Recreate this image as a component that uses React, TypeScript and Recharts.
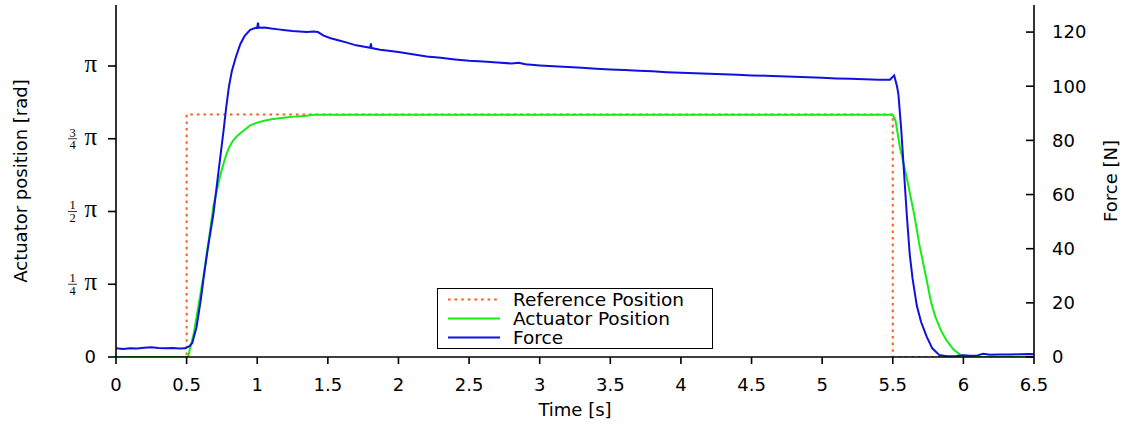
import React from 'react';
import { LineChart, Line, XAxis, YAxis, Legend } from 'recharts';

// reference step input [rad]
const refT = [0, 0.5, 0.5, 5.5, 5.5, 6.5];
const refPos = [0, 0, 2.618, 2.618, 0, 0];

// measured actuator position [rad]
const actT = [
  0, 0.51, 0.55, 0.6, 0.62, 0.66, 0.69, 0.72, 0.74, 0.76, 0.78, 0.8, 0.83, 0.86, 0.9, 0.95,
  1.0, 1.05, 1.1, 1.2, 1.26, 1.33, 1.4, 5.5, 5.52, 5.55, 5.6, 5.65, 5.69, 5.72, 5.74, 5.77,
  5.8, 5.84, 5.88, 5.93, 5.98, 6.02, 6.5,
];
const actPos = [
  0, 0, 0.25, 0.7, 0.88, 1.3, 1.63, 1.84, 1.97, 2.08, 2.18, 2.26, 2.34, 2.39, 2.44, 2.5,
  2.53, 2.55, 2.567, 2.585, 2.595, 2.603, 2.614, 2.614, 2.55, 2.27, 1.93, 1.55, 1.2, 0.98, 0.83, 0.6,
  0.44, 0.29, 0.18, 0.08, 0.02, 0, 0,
];

// measured force [N]
const forceT = [
  0, 0.05, 0.1, 0.15, 0.2, 0.25, 0.3, 0.35, 0.4, 0.45, 0.49, 0.52, 0.54, 0.57, 0.6, 0.62,
  0.65, 0.69, 0.72, 0.76, 0.78, 0.8, 0.82, 0.85, 0.88, 0.91, 0.95, 0.99, 1.0, 1.005, 1.01, 1.05,
  1.1, 1.15, 1.2, 1.25, 1.3, 1.35, 1.4, 1.43, 1.47, 1.52, 1.58, 1.63, 1.7, 1.76, 1.8, 1.805,
  1.81, 1.87, 1.93, 2.0, 2.1, 2.2, 2.3, 2.4, 2.5, 2.6, 2.7, 2.8, 2.85, 2.9, 3.0, 3.1,
  3.2, 3.3, 3.4, 3.5, 3.6, 3.7, 3.8, 3.9, 4.0, 4.1, 4.2, 4.3, 4.4, 4.5, 4.6, 4.7,
  4.8, 4.9, 5.0, 5.1, 5.2, 5.3, 5.4, 5.48, 5.51, 5.53, 5.54, 5.56, 5.58, 5.6, 5.62, 5.64,
  5.67, 5.7, 5.74, 5.78, 5.83, 5.88, 5.95, 6.0, 6.05, 6.1, 6.14, 6.19, 6.25, 6.33, 6.4, 6.47,
  6.5,
];
const forceN = [
  3.2, 3.0, 3.2, 3.1, 3.4, 3.6, 3.3, 3.2, 3.3, 3.1, 3.2, 4.0, 5.2, 11, 21, 29,
  40, 53, 66, 83, 92, 100, 105.5, 111, 115.5, 118.5, 120.8, 121.6, 121.5, 123.5, 121.6, 121.7,
  121.3, 121.0, 120.7, 120.4, 120.2, 120.0, 120.2, 120.0, 118.7, 117.7, 116.9, 116.2, 115.1, 114.6, 114.2, 115.8,
  114.1, 113.5, 113.1, 112.6, 111.8, 111.0, 110.5, 109.9, 109.4, 109.1, 108.8, 108.4, 108.7, 108.1, 107.7, 107.4,
  107.1, 106.8, 106.5, 106.2, 106.0, 105.7, 105.5, 105.2, 105.0, 104.8, 104.6, 104.4, 104.2, 104.0, 103.9, 103.7,
  103.5, 103.3, 103.1, 102.9, 102.8, 102.6, 102.4, 102.4, 104.0, 100, 97, 84, 68, 52, 38, 29,
  19, 13, 7.5, 3.2, 0.7, 0.3, 0.4, 0.6, 0.5, 0.6, 1.2, 0.8, 0.9, 0.9, 1.0, 1.1,
  1.0,
];

const timeTicks = [0, 0.5, 1, 1.5, 2, 2.5, 3, 3.5, 4, 4.5, 5, 5.5, 6, 6.5];
const posTicks = [0, Math.PI / 4, Math.PI / 2, (3 * Math.PI) / 4, Math.PI];
const posTickLabels = ['0', '1/4π', '1/2π', '3/4π', 'π'];
const forceTicks = [0, 20, 40, 60, 80, 100, 120];

const series = [
  { name: 'Reference Position', color: '#ff5a1f', dash: '2.6 4' },
  { name: 'Actuator Position', color: '#16ec16', dash: undefined },
  { name: 'Force', color: '#1010e0', dash: undefined },
];

const refData = refT.map((t, i) => ({ t, v: refPos[i] }));
const actData = actT.map((t, i) => ({ t, v: actPos[i] }));
const forceData = forceT.map((t, i) => ({ t, v: forceN[i] }));

const SANS = 'DejaVu Sans';
const SERIF = 'Liberation Serif';
const FS = 18;

function PosTick({ x, y, payload }: any) {
  const i = posTicks.findIndex((v) => Math.abs(v - payload.value) < 1e-6);
  const label = posTickLabels[i] ?? '';
  if (label === '0') {
    return (
      <text x={x} y={y} dy="0.355em" textAnchor="end" fontSize={FS} fontFamily={SANS} fill="#000">
        0
      </text>
    );
  }
  const frac = label.replace('π', '');
  const [num, den] = frac ? frac.split('/') : [];
  return (
    <g>
      {frac && (
        <>
          <text x={x - 23.5} y={y - 2} textAnchor="middle" fontSize={12.5} fontFamily={SERIF} fill="#000">
            {num}
          </text>
          <line x1={x - 28} x2={x - 19} y1={y} y2={y} stroke="#000" strokeWidth={0.8} />
          <text x={x - 23.5} y={y + 10.5} textAnchor="middle" fontSize={12.5} fontFamily={SERIF} fill="#000">
            {den}
          </text>
        </>
      )}
      <text x={x + 1} y={y + 6} textAnchor="end" fontSize={25} fontFamily={SERIF} fill="#000">
        π
      </text>
    </g>
  );
}

function ForceTick({ x, y, payload }: any) {
  return (
    <g>
      <line x1={x - 8} x2={x} y1={y} y2={y} stroke="#000" strokeWidth={1.6} />
      <text x={x + 18} y={y} dy="0.355em" textAnchor="start" fontSize={FS} fontFamily={SANS} fill="#000">
        {payload.value}
      </text>
    </g>
  );
}

function LegendBox() {
  return (
    <div
      style={{
        boxSizing: 'border-box',
        width: 276,
        height: 61,
        border: '1.5px solid #000',
        background: '#fff',
        paddingTop: 1,
        fontFamily: SANS,
        fontSize: 18.5,
        lineHeight: '19px',
        color: '#000',
      }}
    >
      {series.map((s) => (
        <div key={s.name} style={{ display: 'flex', alignItems: 'center', height: 19 }}>
          <svg width={52} height={19} style={{ marginLeft: 10, flex: 'none' }}>
            <line x1={0} x2={52} y1={9.5} y2={9.5} stroke={s.color} strokeWidth={2} strokeDasharray={s.dash} />
          </svg>
          <span style={{ marginLeft: 13, whiteSpace: 'nowrap' }}>{s.name}</span>
        </div>
      ))}
    </div>
  );
}

export default function App() {
  return (
    <div style={{ position: 'absolute', left: 0, top: 0, background: '#fff' }}>
      <LineChart width={1125} height={429} margin={{ top: 5, right: 0, bottom: 0, left: 0 }}>
        <XAxis
          dataKey="t"
          type="number"
          domain={[0, 6.5]}
          ticks={timeTicks}
          allowDataOverflow
          height={72}
          tickSize={7}
          tickMargin={14}
          stroke="#000"
          axisLine={{ stroke: '#000', strokeWidth: 1.6 }}
          tickLine={{ stroke: '#000', strokeWidth: 1.6 }}
          tick={{ fontSize: FS, fontFamily: SANS, fill: '#000' }}
          label={{ value: 'Time [s]', position: 'center', dy: 17, style: { fontSize: FS, fontFamily: SANS, fill: '#000' } }}
        />
        <YAxis
          yAxisId="pos"
          type="number"
          domain={[0, 3.8]}
          ticks={posTicks}
          allowDataOverflow
          width={116}
          tickSize={8}
          tickMargin={12}
          stroke="#000"
          axisLine={{ stroke: '#000', strokeWidth: 1.6 }}
          tickLine={{ stroke: '#000', strokeWidth: 1.6 }}
          tick={<PosTick />}
          label={{
            value: 'Actuator position [rad]',
            angle: -90,
            position: 'center',
            dx: -37,
            style: { fontSize: FS, fontFamily: SANS, fill: '#000', textAnchor: 'middle' },
          }}
        />
        <YAxis
          yAxisId="force"
          orientation="right"
          type="number"
          domain={[0, 130]}
          ticks={forceTicks}
          allowDataOverflow
          width={91}
          tickSize={0}
          tickMargin={0}
          stroke="#000"
          axisLine={{ stroke: '#000', strokeWidth: 1.6 }}
          tickLine={false}
          tick={<ForceTick />}
          label={{
            value: 'Force [N]',
            angle: -90,
            position: 'center',
            dx: 31,
            style: { fontSize: FS, fontFamily: SANS, fill: '#000', textAnchor: 'middle' },
          }}
        />
        <Legend
          layout="horizontal"
          verticalAlign="middle"
          wrapperStyle={{ left: 437, top: 288, width: 276, height: 61 }}
          content={<LegendBox />}
        />
        <Line
          yAxisId="pos"
          data={refData}
          dataKey="v"
          name={series[0].name}
          type="linear"
          stroke={series[0].color}
          strokeWidth={2}
          strokeDasharray={series[0].dash}
          dot={false}
          activeDot={false}
          isAnimationActive={false}
        />
        <Line
          yAxisId="pos"
          data={actData}
          dataKey="v"
          name={series[1].name}
          type="linear"
          stroke={series[1].color}
          strokeWidth={2}
          dot={false}
          activeDot={false}
          isAnimationActive={false}
        />
        <Line
          yAxisId="force"
          data={forceData}
          dataKey="v"
          name={series[2].name}
          type="linear"
          stroke={series[2].color}
          strokeWidth={2}
          dot={false}
          activeDot={false}
          isAnimationActive={false}
        />
      </LineChart>
    </div>
  );
}
